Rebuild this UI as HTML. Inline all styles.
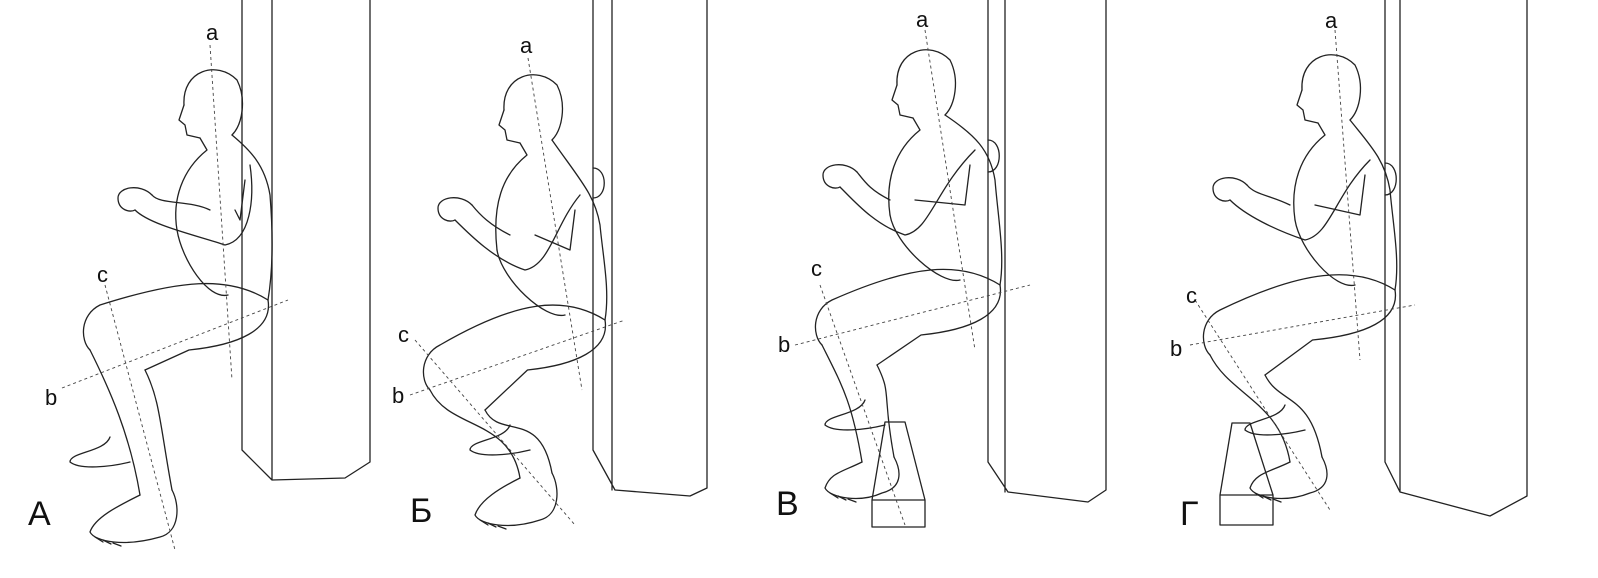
<!DOCTYPE html>
<html><head><meta charset="utf-8"><style>
html,body{margin:0;padding:0;background:#fff;width:1598px;height:578px;overflow:hidden}
svg{display:block}
text{font-family:"Liberation Sans",sans-serif;fill:#111}
</style></head><body>
<svg id="s" width="1598" height="578" viewBox="0 0 1598 578" xmlns="http://www.w3.org/2000/svg">
<g fill="none" stroke="#222" stroke-width="1.3" stroke-linejoin="round" stroke-linecap="round">
<path d="M242 0 V450 L272 480 L345 478 L370 462 V0 M272 0 V480"/>
<path d="M593 0 V450 L615 490 L690 496 L707 488 V0 M612 0 V490"/>
<path d="M988 0 V462 L1008 492 L1088 502 L1106 490 V0 M1005 0 V492"/>
<path d="M1385 0 V462 L1400 492 L1490 516 L1527 496 V0 M1400 0 V492"/>
<path d="M872 500 V527 H925 V500 L905 422 H885 Z M872 500 H925"/>
<path d="M1220 495 V525 H1273 V495 L1250 423 H1232 Z M1220 495 H1273"/>
<path d="M593 168 C608 168 608 198 593 198"/>
<path d="M988 140 C1003 140 1003 172 988 172"/>
<path d="M1385 163 C1400 163 1400 195 1385 195"/>
</g>
<g id="figs" fill="none" stroke="#222" stroke-width="1.3" stroke-linejoin="round" stroke-linecap="round"></g>
<g stroke="#444" stroke-width="0.9" stroke-dasharray="3,3" fill="none">
<line x1="210" y1="45" x2="232" y2="380"/><line x1="62" y1="388" x2="288" y2="300"/><line x1="105" y1="285" x2="175" y2="550"/>
<line x1="528" y1="58" x2="582" y2="390"/><line x1="410" y1="395" x2="625" y2="320"/><line x1="415" y1="340" x2="575" y2="525"/>
<line x1="925" y1="30" x2="975" y2="350"/><line x1="795" y1="345" x2="1030" y2="285"/><line x1="820" y1="285" x2="905" y2="525"/>
<line x1="1335" y1="30" x2="1360" y2="360"/><line x1="1190" y1="345" x2="1415" y2="305"/><line x1="1195" y1="300" x2="1330" y2="510"/>
</g>
<g font-size="22">
<text x="206" y="40">a</text><text x="45" y="405">b</text><text x="97" y="282">c</text>
<text x="520" y="53">a</text><text x="392" y="403">b</text><text x="398" y="342">c</text>
<text x="916" y="27">a</text><text x="778" y="352">b</text><text x="811" y="276">c</text>
<text x="1325" y="28">a</text><text x="1170" y="356">b</text><text x="1186" y="303">c</text>
</g>
<g font-size="34">
<text x="28" y="525">А</text><text x="410" y="522">Б</text><text x="776" y="515">В</text><text x="1180" y="525">Г</text>
</g>
</svg>
<script>
const figs=[
 {h:[212,100],s:[265,165],hp:[268,300],k:[90,330],a:[150,495],t:[95,532],e:[225,240],f:[130,195],bf:[70,462]},
 {h:[532,105],s:[595,195],hp:[605,320],k:[430,370],a:[530,478],t:[480,515],e:[525,265],f:[450,205],bf:[470,450]},
 {h:[925,80],s:[990,150],hp:[1000,285],k:[822,325],a:[872,462],t:[830,488],e:[905,230],f:[835,172],bf:[825,425]},
 {h:[1330,85],s:[1385,160],hp:[1395,290],k:[1210,335],a:[1300,462],t:[1255,488],e:[1305,235],f:[1225,185],bf:[1245,430]}
];
const g=document.getElementById('figs');
function P(d){const p=document.createElementNS('http://www.w3.org/2000/svg','path');p.setAttribute('d',d);g.appendChild(p);}
figs.forEach(F=>{
 const [hx,hy]=F.h;
 P(`M${hx-28} ${hy+5} C${hx-30} ${hy-30} ${hx+5} ${hy-40} ${hx+25} ${hy-20} C${hx+35} ${hy} ${hx+30} ${hy+25} ${hx+20} ${hy+35}`);
 P(`M${hx-28} ${hy+5} L${hx-33} ${hy+20} L${hx-27} ${hy+25} L${hx-25} ${hy+35} L${hx-12} ${hy+38}`);
 const [sx,sy]=F.s,[px,py]=F.hp;
 P(`M${hx+20} ${hy+35} C${sx-15} ${sy-15} ${sx} ${sy} ${sx+5} ${sy+30} C${sx+8} ${(sy+py)/2} ${px+5} ${py-30} ${px} ${py}`);
 P(`M${hx-12} ${hy+38} L${hx-5} ${hy+50} C${hx-30} ${hy+70} ${hx-40} ${hy+100} ${hx-35} ${py-70}`);
 const k=F.k;
 P(`M${px} ${py} C${px-40} ${py-25} ${(px+k[0])/2} ${py-20} ${k[0]+10} ${k[1]-25} C${k[0]-10} ${k[1]-15} ${k[0]-10} ${k[1]+10} ${k[0]} ${k[1]+20}`);
 P(`M${px} ${py} C${px+5} ${py+30} ${px-30} ${py+45} ${(px+k[0])/2+10} ${py+50} L${k[0]+55} ${k[1]+40}`);
 const a=F.a,t=F.t;
 P(`M${k[0]} ${k[1]+20} C${k[0]+20} ${k[1]+60} ${a[0]-20} ${a[1]-60} ${a[0]-10} ${a[1]}`);
 P(`M${k[0]+55} ${k[1]+40} C${k[0]+70} ${k[1]+70} ${a[0]+10} ${a[1]-70} ${a[0]+22} ${a[1]-5}`);
 P(`M${a[0]-10} ${a[1]} C${a[0]-30} ${a[1]+10} ${t[0]} ${t[1]-15} ${t[0]-5} ${t[1]} C${t[0]} ${t[1]+10} ${t[0]+30} ${t[1]+15} ${a[0]+10} ${t[1]+5} C${a[0]+30} ${t[1]} ${a[0]+30} ${a[1]+10} ${a[0]+22} ${a[1]-5}`);
 P(`M${t[0]} ${t[1]+5} l8 5 M${t[0]+8} ${t[1]+8} l8 4 M${t[0]+18} ${t[1]+11} l8 3`);
 const b=F.bf;
 P(`M${b[0]+40} ${b[1]-25} C${b[0]+35} ${b[1]-10} ${b[0]} ${b[1]-10} ${b[0]} ${b[1]} C${b[0]+10} ${b[1]+8} ${b[0]+40} ${b[1]+5} ${b[0]+60} ${b[1]}`);
 const e=F.e,f=F.f;
 P(`M${sx-15} ${sy} C${e[0]+30} ${e[1]-40} ${e[0]+25} ${e[1]} ${e[0]} ${e[1]+5} C${e[0]-30} ${e[1]-5} ${f[0]+20} ${f[1]+30} ${f[0]+5} ${f[1]+15}`);
 P(`M${e[0]-15} ${e[1]-30} C${e[0]-35} ${e[1]-40} ${f[0]+30} ${f[1]+10} ${f[0]+22} ${f[1]}`);
 P(`M${f[0]+22} ${f[1]} C${f[0]+10} ${f[1]-12} ${f[0]-12} ${f[1]-8} ${f[0]-12} ${f[1]+3} C${f[0]-12} ${f[1]+15} ${f[0]} ${f[1]+18} ${f[0]+5} ${f[1]+15}`);
 P(`M${sx-20} ${sy+15} L${sx-25} ${sy+55} L${e[0]+10} ${e[1]-30}`);
 P(`M${hx-35} ${py-70} C${hx-30} ${py-40} ${px-60} ${py} ${px-40} ${py-5}`);
});
</script>
</body></html>
